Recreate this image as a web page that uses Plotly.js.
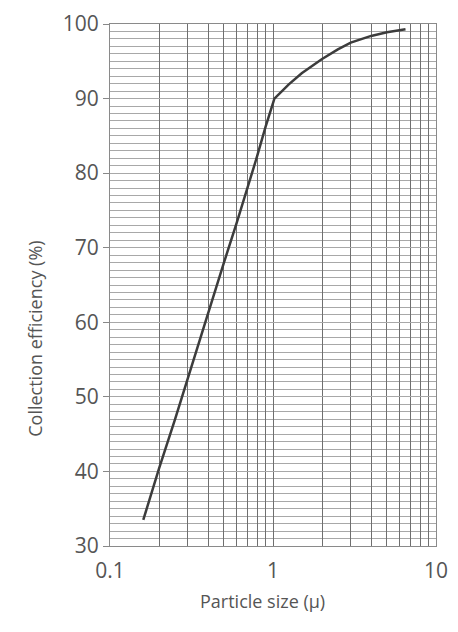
<!DOCTYPE html>
<html>
<head>
<meta charset="utf-8">
<script src="https://cdn.plot.ly/plotly-3.0.1.min.js"></script>
<style>html,body{margin:0;padding:0;background:#fff;}#chart{width:458px;height:632px;}</style>
</head>
<body>
<div id="chart"></div>
<script>
// Particle size (micron) and collection efficiency (%)
const particleSize = [0.16, 0.2, 0.25, 0.3, 0.4, 0.5, 0.6, 0.7, 0.8, 0.9, 1.02, 1.25, 1.5, 2.0, 2.5, 3.0, 4.0, 5.0, 6.5];
const efficiency   = [33.5, 40.4, 46.9, 52.5, 61.3, 68.0, 73.4, 78.0, 82.3, 86.2, 90.0, 91.9, 93.4, 95.3, 96.6, 97.5, 98.4, 98.9, 99.3];

const xGridVals = [0.1,0.2,0.3,0.4,0.5,0.6,0.7,0.8,0.9,1,2,3,4,5,6,7,8,9,10];
const xLabelVals = ['0.1','1','10'];
const xTickText = xGridVals.map(v => xLabelVals.includes(String(v)) ? String(v) : '');

const font = '"Open Sans", "Noto Sans", sans-serif';

const trace = {
  x: particleSize, y: efficiency, type: 'scatter', mode: 'lines',
  line: {color: '#3c3c3c', width: 2.5}, hoverinfo: 'skip'
};

const layout = {
  width: 458, height: 632,
  margin: {l: 110, r: 22, t: 24, b: 86},
  paper_bgcolor: '#fff', plot_bgcolor: '#fff',
  showlegend: false,
  font: {family: font, color: '#555'},
  xaxis: {
    type: 'log', range: [-1, 1],
    tickmode: 'array', tickvals: xGridVals, ticktext: xTickText,
    ticks: '', ticklabelstandoff: 6,
    showgrid: true, gridcolor: '#6f6f6f', gridwidth: 1,
    showline: true, linecolor: '#8a8a8a', linewidth: 1, mirror: true,
    zeroline: false,
    tickfont: {size: 21, color: '#555', family: font},
    title: {text: ''}
  },
  yaxis: {
    range: [30, 100], dtick: 10, tick0: 30,
    ticks: 'outside', ticklen: 6, tickcolor: '#888', tickwidth: 1,
    showgrid: true, gridcolor: '#a8a8a8', gridwidth: 1,
    minor: {dtick: 1, showgrid: true, gridcolor: '#a8a8a8', gridwidth: 1, ticks: ''},
    showline: true, linecolor: '#8a8a8a', linewidth: 1, mirror: true,
    zeroline: false,
    tickfont: {size: 21, color: '#555', family: font},
    title: {text: ''}
  },
  annotations: [{
    text: 'Collection efficiency (%)', xref: 'paper', yref: 'paper',
    x: -0.23, y: 0.397, textangle: -90, showarrow: false,
    font: {size: 18, color: '#555', family: font}, xanchor: 'center', yanchor: 'middle'
  }, {
    text: 'Particle size (μ)', xref: 'paper', yref: 'paper',
    x: 0.468, y: -0.105, showarrow: false,
    font: {size: 18, color: '#555', family: font}, xanchor: 'center', yanchor: 'middle'
  }]
};

Plotly.newPlot('chart', [trace], layout, {staticPlot: true, displayModeBar: false});
</script>
</body>
</html>
